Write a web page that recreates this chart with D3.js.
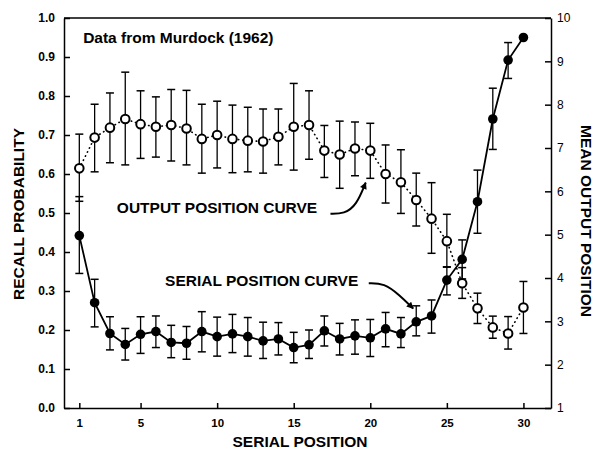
<!DOCTYPE html>
<html>
<head>
<meta charset="utf-8">
<script src="https://cdn.jsdelivr.net/npm/d3@7"></script>
<style>
  body { margin: 0; background: #fff; }
  svg { font-family: "Liberation Sans", Arial, sans-serif; }
  .axis path, .axis line { stroke: #000; stroke-width: 1.5; }
  .axis text { fill: #000; }
</style>
</head>
<body>
<svg id="chart" width="594" height="453"></svg>
<script>
const width = 594;
const height = 453;

// serial positions 1..30
const positions = [1,2,3,4,5,6,7,8,9,10,11,12,13,14,15,16,17,18,19,20,21,22,23,24,25,26,27,28,29,30];

// serial position curve (recall probability, left axis)
const recallMean = [0.442,0.270,0.191,0.163,0.189,0.196,0.168,0.166,0.196,0.183,0.190,0.183,0.172,0.177,0.155,
                    0.162,0.198,0.177,0.185,0.180,0.203,0.190,0.221,0.236,0.328,0.381,0.529,0.741,0.892,0.950];
const recallHigh = [0.542,0.330,0.234,0.204,0.234,0.236,0.212,0.209,0.247,0.233,0.240,0.232,0.220,0.219,0.194,
                    0.200,0.236,0.217,0.226,0.227,0.245,0.232,0.262,0.277,0.361,0.431,0.610,0.820,0.937,null];
const recallLow  = [0.345,0.208,0.149,0.123,0.140,0.155,0.129,0.125,0.144,0.133,0.142,0.133,0.127,0.136,0.116,
                    0.127,0.159,0.136,0.138,0.132,0.157,0.155,0.185,0.192,0.290,0.331,0.448,0.663,0.845,null];

// output position curve (mean output position, right axis)
const outputMean = [6.53,7.24,7.47,7.67,7.55,7.49,7.53,7.45,7.21,7.30,7.21,7.17,7.15,7.26,7.49,
                    7.53,6.94,6.85,6.99,6.94,6.40,6.21,5.80,5.37,4.85,3.88,3.30,2.86,2.72,3.32];
const outputHigh = [7.32,8.01,8.27,8.75,8.32,8.18,8.35,8.33,8.01,8.08,7.99,7.94,7.90,7.90,8.49,
                    8.32,7.52,7.62,7.60,7.57,7.07,6.96,6.42,6.20,5.47,4.24,3.65,3.12,3.11,3.92];
const outputLow  = [5.77,6.45,6.66,6.61,6.76,6.79,6.70,6.61,6.42,6.54,6.43,6.45,6.42,6.61,6.49,
                    6.74,6.32,6.07,6.36,6.30,5.73,5.49,5.20,4.57,4.26,3.53,2.95,2.61,2.36,2.72];

const xTicks = [1,5,10,15,20,25,30];
const leftTicks = [0.0,0.1,0.2,0.3,0.4,0.5,0.6,0.7,0.8,0.9,1.0];
const rightTicks = [1,2,3,4,5,6,7,8,9,10];

const svg = d3.select('#chart');

const plot = { left: 64, right: 551, top: 18, bottom: 408 };

var xScale = d3.scaleLinear().domain([0, 31.8]).range([plot.left, plot.right]);
var yLeft = d3.scaleLinear().domain([0, 1]).range([plot.bottom, plot.top]);
var yRight = d3.scaleLinear().domain([1, 10]).range([plot.bottom, plot.top]);

// frame top line
svg.append('line')
    .attr('x1', plot.left).attr('x2', plot.right)
    .attr('y1', plot.top).attr('y2', plot.top)
    .attr('stroke', '#000').attr('stroke-width', 1.5);

svg.append('g')
    .attr('class', 'axis')
    .attr('transform', 'translate(0,' + plot.bottom + ')')
    .call(d3.axisBottom(xScale).tickValues(xTicks).tickSizeInner(-5).tickSizeOuter(0).tickPadding(11))
    .selectAll('text').attr('font-size', 11.5).attr('font-weight', 'bold');

svg.append('g')
    .attr('class', 'axis')
    .attr('transform', 'translate(' + plot.left + ',0)')
    .call(d3.axisLeft(yLeft).tickValues(leftTicks).tickFormat(d3.format('.1f')).tickSizeInner(-6).tickSizeOuter(0).tickPadding(9))
    .selectAll('text').attr('font-size', 12).attr('font-weight', 'bold');

svg.append('g')
    .attr('class', 'axis')
    .attr('transform', 'translate(' + plot.right + ',0)')
    .call(d3.axisRight(yRight).tickValues(rightTicks).tickSizeInner(-6).tickSizeOuter(0).tickPadding(6))
    .selectAll('text').attr('font-size', 12);

// axis titles
svg.append('text')
    .attr('transform', 'translate(19,' + 214 + ') rotate(-90)')
    .attr('text-anchor', 'middle').attr('dy', '0.35em')
    .attr('font-size', 15.5).attr('font-weight', 'bold')
    .text('RECALL  PROBABILITY');

svg.append('text')
    .attr('transform', 'translate(586,' + 221 + ') rotate(90)')
    .attr('text-anchor', 'middle').attr('dy', '0.35em')
    .attr('font-size', 15.5).attr('font-weight', 'bold')
    .text('MEAN OUTPUT POSITION');

svg.append('text')
    .attr('x', 300).attr('y', 447)
    .attr('text-anchor', 'middle')
    .attr('font-size', 15.5).attr('font-weight', 'bold')
    .text('SERIAL POSITION');

const capW = 4;

function errorBars(g, mean, low, high, yScale) {
    const data = positions.map((p, i) => ({ p: p, lo: low[i], hi: high[i] })).filter(d => d.lo != null);
    g.selectAll('.bar').data(data).enter().append('line')
        .attr('x1', d => xScale(d.p)).attr('x2', d => xScale(d.p))
        .attr('y1', d => yScale(d.lo)).attr('y2', d => yScale(d.hi))
        .attr('stroke', '#000').attr('stroke-width', 1.3);
    g.selectAll('.capHi').data(data).enter().append('line')
        .attr('x1', d => xScale(d.p) - capW).attr('x2', d => xScale(d.p) + capW)
        .attr('y1', d => yScale(d.hi)).attr('y2', d => yScale(d.hi))
        .attr('stroke', '#000').attr('stroke-width', 1.5);
    g.selectAll('.capLo').data(data).enter().append('line')
        .attr('x1', d => xScale(d.p) - capW).attr('x2', d => xScale(d.p) + capW)
        .attr('y1', d => yScale(d.lo)).attr('y2', d => yScale(d.lo))
        .attr('stroke', '#000').attr('stroke-width', 1.5);
}

const gOut = svg.append('g');
const gSer = svg.append('g');

errorBars(gOut, outputMean, outputLow, outputHigh, yRight);
errorBars(gSer, recallMean, recallLow, recallHigh, yLeft);

var lineOut = d3.line()
    .x((d, i) => xScale(positions[i]))
    .y(d => yRight(d));

var lineSer = d3.line()
    .x((d, i) => xScale(positions[i]))
    .y(d => yLeft(d));

gOut.append('path')
    .datum(outputMean)
    .attr('d', lineOut)
    .attr('fill', 'none').attr('stroke', '#000')
    .attr('stroke-width', 1.6).attr('stroke-linecap', 'round')
    .attr('stroke-dasharray', '0.5,4');

gSer.append('path')
    .datum(recallMean)
    .attr('d', lineSer)
    .attr('fill', 'none').attr('stroke', '#000').attr('stroke-width', 1.8);

gOut.selectAll('.dot')
    .data(outputMean)
    .enter().append('circle')
    .attr('cx', (d, i) => xScale(positions[i]))
    .attr('cy', d => yRight(d))
    .attr('r', 4.3)
    .attr('fill', '#fff').attr('stroke', '#000').attr('stroke-width', 2);

gSer.selectAll('.dot')
    .data(recallMean)
    .enter().append('circle')
    .attr('cx', (d, i) => xScale(positions[i]))
    .attr('cy', d => yLeft(d))
    .attr('r', 4.8)
    .attr('fill', '#000');

// annotations
svg.append('defs').append('marker')
    .attr('id', 'head')
    .attr('viewBox', '0 0 10 10')
    .attr('refX', 9).attr('refY', 5)
    .attr('markerWidth', 9).attr('markerHeight', 7)
    .attr('markerUnits', 'userSpaceOnUse')
    .attr('orient', 'auto')
    .append('path').attr('d', 'M0,0 L10,5 L0,10 Z').attr('fill', '#000');

svg.append('text')
    .attr('x', xScale(1.25)).attr('y', yLeft(0.935))
    .attr('font-size', 15.5).attr('font-weight', 'bold')
    .text('Data from Murdock (1962)');

svg.append('text')
    .attr('x', xScale(3.45)).attr('y', yLeft(0.499))
    .attr('font-size', 15.5).attr('font-weight', 'bold')
    .text('OUTPUT POSITION CURVE');

svg.append('text')
    .attr('x', xScale(6.6)).attr('y', yLeft(0.314))
    .attr('font-size', 15.5).attr('font-weight', 'bold')
    .text('SERIAL POSITION CURVE');

const arrowOut = [[17.4, 0.498], [18.3, 0.498], [19.1, 0.52], [19.7, 0.578]];
const arrowSer = [[19.9, 0.32], [20.9, 0.32], [21.9, 0.29], [22.8, 0.255]];

var arrowLine = d3.line()
    .x(d => xScale(d[0]))
    .y(d => yLeft(d[1]))
    .curve(d3.curveBasis);

svg.append('path').datum(arrowOut).attr('d', arrowLine)
    .attr('fill', 'none').attr('stroke', '#000').attr('stroke-width', 2)
    .attr('marker-end', 'url(#head)');

svg.append('path').datum(arrowSer).attr('d', arrowLine)
    .attr('fill', 'none').attr('stroke', '#000').attr('stroke-width', 2)
    .attr('marker-end', 'url(#head)');
</script>
</body>
</html>
